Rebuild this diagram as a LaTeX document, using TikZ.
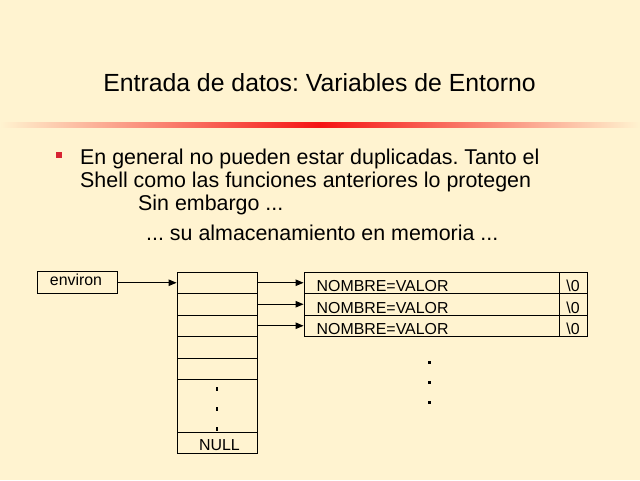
\documentclass[tikz,border=0pt]{standalone}
\usepackage{fontspec}
\setmainfont{Liberation Sans}
\usetikzlibrary{arrows.meta}
\frenchspacing
\definecolor{bgcream}{RGB}{255,243,208}
\definecolor{barred}{RGB}{245,20,20}
\definecolor{bulletred}{RGB}{215,35,50}
\tikzset{
  cell/.style={draw=black, line width=0.9pt, inner sep=0pt, minimum width=80pt, minimum height=21.5pt},
  strbox/.style={draw=black, line width=0.9pt, inner sep=0pt, minimum width=255pt, minimum height=21.5pt},
  endbox/.style={draw=black, line width=0.9pt, inner sep=0pt, minimum width=28pt, minimum height=21.5pt},
  dtxt/.style={font=\fontsize{15.9pt}{18pt}\selectfont, inner sep=0pt},
  btxt/.style={font=\fontsize{21.4pt}{25pt}\selectfont, inner sep=0pt, anchor=base west},
  ptr/.style={-{Triangle[length=8pt,width=6.5pt]}, line width=0.9pt},
  vdot/.style={fill=black, inner sep=0pt, minimum width=2pt, minimum height=4pt},
  bdot/.style={fill=black, inner sep=0pt, minimum width=3pt, minimum height=3pt}
}
\begin{document}
\begin{tikzpicture}[x=1pt,y=-1pt]
\fill[bgcream] (0,0) rectangle (640,480);
\useasboundingbox (0,0) rectangle (640,480);
% title
\node[font=\fontsize{24.8pt}{29pt}\selectfont, inner sep=0pt, anchor=base] (title) at (319.5,91) {Entrada de datos: Variables de Entorno};
% gradient bar
\shade[left color=bgcream, right color=barred] (0,122.5) rectangle (320,127.5);
\shade[left color=barred, right color=bgcream] (320,122.5) rectangle (640,127.5);
% bullet
\node[fill=bulletred, inner sep=0pt, minimum size=6pt] (bul) at (59,155) {};
\node[btxt] (l1) at (80,164) {En general no pueden estar duplicadas. Tanto el};
\node[btxt] (l2) at (80,187) {Shell como las funciones anteriores lo protegen};
\node[btxt] (l3) at (138,210) {Sin embargo ...};
\node[btxt] (l4) at (146,240) {... su almacenamiento en memoria ...};
% environ
\node[draw=black, line width=0.9pt, inner sep=0pt, minimum width=80pt, minimum height=22pt] (env) at (77,282.75) {};
\node[dtxt, anchor=base] (envt) at (76,285.7) {environ};
% array
\node[cell] (c1) at (217,282.75) {};
\node[cell] (c2) at (217,304.25) {};
\node[cell] (c3) at (217,325.75) {};
\node[cell] (c4) at (217,347.25) {};
\node[cell] (c5) at (217,368.75) {};
\node[cell, minimum height=52.5pt] (c6) at (217,405.75) {};
\node[cell, minimum height=21pt] (c7) at (217,442.5) {};
\node[dtxt, anchor=base] (null) at (219.5,450.7) {NULL};
\node[vdot] (d1) at (217,389) {};
\node[vdot] (d2) at (217,409) {};
\node[vdot] (d3) at (217,429) {};
% strings
\node[strbox] (s1) at (431.5,282.75) {};
\node[strbox] (s2) at (431.5,304.25) {};
\node[strbox] (s3) at (431.5,325.75) {};
\node[endbox] (e1) at (573,282.75) {};
\node[endbox] (e2) at (573,304.25) {};
\node[endbox] (e3) at (573,325.75) {};
\node[dtxt, anchor=base west] (t1) at (316.5,291.5) {NOMBRE=VALOR};
\node[dtxt, anchor=base west] (t2) at (316.5,313) {NOMBRE=VALOR};
\node[dtxt, anchor=base west] (t3) at (316.5,334.5) {NOMBRE=VALOR};
\node[dtxt, anchor=base] (z1) at (573,291.5) {\textbackslash 0};
\node[dtxt, anchor=base] (z2) at (573,313) {\textbackslash 0};
\node[dtxt, anchor=base] (z3) at (573,334.5) {\textbackslash 0};
\node[bdot] (r1) at (429,362) {};
\node[bdot] (r2) at (429,382) {};
\node[bdot] (r3) at (429,402) {};
% pointers
\draw[ptr] (env.east) -- (c1.west);
\draw[ptr] (c1.east) -- (s1.west);
\draw[ptr] (c2.east) -- (s2.west);
\draw[ptr] (c3.east) -- (s3.west);
\end{tikzpicture}
\end{document}
